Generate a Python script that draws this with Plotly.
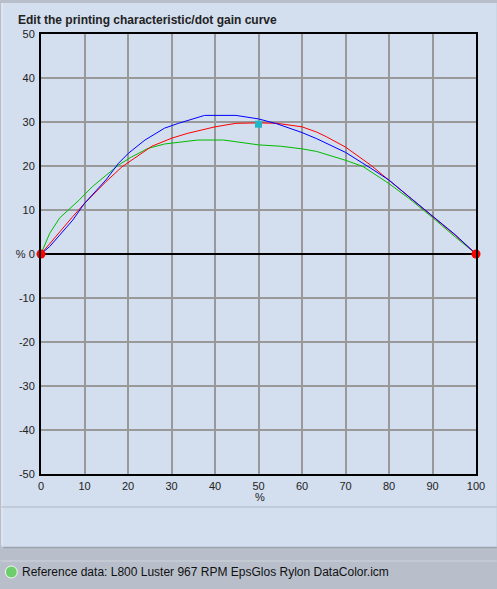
import plotly.graph_objects as go

# ---- data ----
blue_x = [0, 2, 4.3, 7.3, 10, 14.9, 17.8, 20.1, 23.9, 28.4, 31.6, 33.6, 37.6, 44.8, 50, 54.2, 60, 63.4, 65.5, 70, 75.8, 80, 84.5, 90, 95.2, 100]
blue_y = [0, 1.7, 4.3, 7.7, 11.5, 16.8, 20.6, 22.9, 25.9, 28.6, 29.7, 30.3, 31.5, 31.5, 30.7, 29.6, 27.6, 26.2, 25.2, 23.1, 19.5, 16.8, 13.1, 8.7, 4.4, 0]

red_x = [0, 2, 4.3, 7.3, 10, 14.9, 18.6, 22.4, 25.5, 30, 33.6, 40, 44.8, 50, 54.2, 60, 63.4, 65.7, 70, 75.8, 80, 84.5, 90, 95.2, 100]
red_y = [0, 2.4, 5.1, 8.5, 11.5, 16.4, 19.8, 22.5, 24.5, 26.3, 27.4, 28.9, 29.7, 29.8, 29.7, 28.9, 27.7, 26.6, 24.3, 20.2, 16.8, 13.0, 8.5, 4.3, 0]

green_x = [0, 2, 4.3, 6.9, 8.8, 11.8, 14.8, 17.8, 20.9, 24.6, 28.4, 31.6, 36, 42, 50, 55, 60, 63.4, 65.5, 70, 74, 80, 84.5, 90, 95.2, 100]
green_y = [0, 4.7, 8.2, 10.6, 12.3, 15.3, 17.7, 20.2, 22.1, 24.0, 25.0, 25.4, 25.9, 25.9, 24.8, 24.5, 23.9, 23.3, 22.7, 21.3, 19.9, 16.0, 12.7, 8.3, 3.9, 0]

end_points_x = [0, 100]
end_points_y = [0, 0]
edit_point_x = [50]
edit_point_y = [29.5]

x_ticks = [0, 10, 20, 30, 40, 50, 60, 70, 80, 90, 100]
y_ticks = [-50, -40, -30, -20, -10, 0, 10, 20, 30, 40, 50]
y_tick_text = ["-50", "-40", "-30", "-20", "-10", "% 0", "10", "20", "30", "40", "50"]

title_text = "Edit the printing characteristic/dot gain curve"
status_text = "Reference data: L800 Luster 967 RPM EpsGlos Rylon DataColor.icm"

# ---- layout geometry (pixels) ----
W, H = 497, 589
L, R, T, B = 41, 481, 34, 474
PW, PH = R - L, B - T


def px(x):
    return (x - L) / PW


def py(y):
    return (B - y) / PH


PANEL = "#D3DEEE"
GRAY = "#B8BFCB"
FONT = "Liberation Sans"

fig = go.Figure()
fig.add_trace(go.Scatter(x=green_x, y=green_y, mode="lines", line=dict(color="#00BB00", width=1)))
fig.add_trace(go.Scatter(x=red_x, y=red_y, mode="lines", line=dict(color="#FF0000", width=1)))
fig.add_trace(go.Scatter(x=blue_x, y=blue_y, mode="lines", line=dict(color="#0000FF", width=1)))
fig.add_trace(go.Scatter(x=end_points_x, y=end_points_y, mode="markers",
                         marker=dict(color="#FF0000", size=9, symbol="circle"), cliponaxis=False))
fig.add_trace(go.Scatter(x=edit_point_x, y=edit_point_y, mode="markers",
                         marker=dict(color="#22B4C8", size=7, symbol="square")))

shapes = [
    # panel background
    dict(type="rect", xref="paper", yref="paper", x0=px(1), x1=px(W + 5), y0=py(547), y1=py(3),
         fillcolor=PANEL, line=dict(width=0), layer="below"),
    # panel left edge highlight
    dict(type="line", xref="paper", yref="paper", x0=px(1.5), x1=px(1.5), y0=py(545), y1=py(3),
         line=dict(color="#EEF2F8", width=1), layer="below"),
    # panel bottom shadow
    dict(type="line", xref="paper", yref="paper", x0=px(3), x1=px(W + 5), y0=py(547.5), y1=py(547.5),
         line=dict(color="#9AA2AE", width=1.5), layer="below"),
    # separator in panel
    dict(type="line", xref="paper", yref="paper", x0=px(1), x1=px(W + 5), y0=py(507), y1=py(507),
         line=dict(color="#AEB6C2", width=1), layer="below"),
    # status bar top highlight
    dict(type="line", xref="paper", yref="paper", x0=px(0), x1=px(W + 5), y0=py(561), y1=py(561),
         line=dict(color="#D0D5DD", width=1), layer="below"),
    # status dot
    dict(type="circle", xref="paper", yref="paper", x0=px(5), x1=px(17), y0=py(578), y1=py(566),
         fillcolor="#6CCF6C", line=dict(color="#F4F8F4", width=1)),
]

annotations = [
    dict(text="<b>" + title_text + "</b>", xref="paper", yref="paper", x=px(16), y=py(20),
         xanchor="left", yanchor="middle", showarrow=False, font=dict(family=FONT, size=12, color="#222222")),
    dict(text="%", xref="paper", yref="paper", x=px(263), y=py(497),
         xanchor="center", yanchor="middle", showarrow=False, font=dict(family=FONT, size=11, color="#222222")),
    dict(text=status_text, xref="paper", yref="paper", x=px(20), y=py(572),
         xanchor="left", yanchor="middle", showarrow=False, font=dict(family=FONT, size=12, color="#111111")),
]

fig.update_layout(
    width=W, height=H,
    margin=dict(l=L, r=W - R, t=T, b=H - B, pad=0),
    paper_bgcolor=GRAY, plot_bgcolor="#FFFFFF",
    showlegend=False, hovermode=False,
    shapes=shapes, annotations=annotations,
    font=dict(family=FONT, size=11, color="#222222"),
)
fig.update_xaxes(range=[0, 100], tickvals=x_ticks, ticktext=[str(v) for v in x_ticks],
                 showgrid=True, gridcolor="#999999", gridwidth=1.5,
                 showline=True, linecolor="#000000", linewidth=2, mirror=True,
                 zeroline=False, ticks="outside", ticklen=1, tickcolor="rgba(0,0,0,0)",
                 tickfont=dict(family=FONT, size=11, color="#222222"), fixedrange=True)
fig.update_yaxes(range=[-50, 50], tickvals=y_ticks, ticktext=y_tick_text,
                 showgrid=True, gridcolor="#999999", gridwidth=1.5,
                 showline=True, linecolor="#000000", linewidth=2, mirror=True,
                 zeroline=True, zerolinecolor="#000000", zerolinewidth=1.5,
                 ticks="outside", ticklen=2, tickcolor="rgba(0,0,0,0)",
                 tickfont=dict(family=FONT, size=11, color="#222222"), fixedrange=True)

fig.write_html(
    "out.html",
    config=dict(displayModeBar=False),
    post_script="document.body.style.margin='0';document.body.style.overflow='hidden';",
)
